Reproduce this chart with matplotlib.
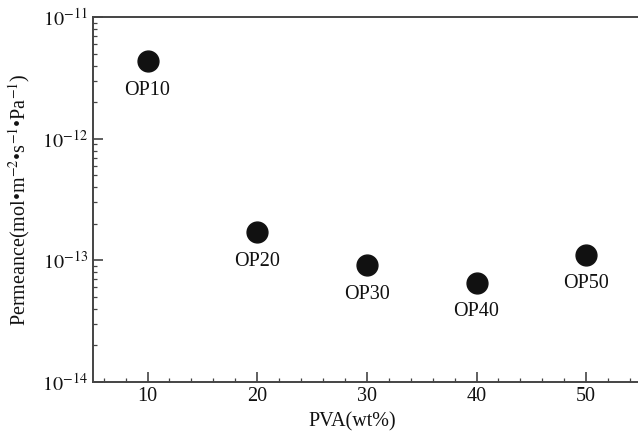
import matplotlib
matplotlib.use('Agg')
import matplotlib.pyplot as plt
from matplotlib.ticker import LogLocator, MultipleLocator, FixedLocator

plt.rcParams['font.family'] = ['Liberation Serif', 'DejaVu Serif']
plt.rcParams['mathtext.fontset'] = 'stix'

# data
pva = [10, 20, 30, 40, 50]
permeance = [4.36e-12, 1.70e-13, 9.1e-14, 6.55e-14, 1.11e-13]
names = ['OP10', 'OP20', 'OP30', 'OP40', 'OP50']
yticks = [1e-14, 1e-13, 1e-12, 1e-11]
ytick_labels = [r'$10^{-14}$', r'$10^{-13}$', r'$10^{-12}$', r'$10^{-11}$']

fig = plt.figure(figsize=(6.38, 4.36), dpi=100)
ax = fig.add_axes([0.1453, 0.1245, 0.8594, 0.8358])

ax.plot(pva, permeance, 'o', color='#111111', markersize=15, linestyle='none')
for x, y, n in zip(pva, permeance, names):
    ax.annotate(n, (x, y), xytext=(0, -21), textcoords='offset points',
                ha='center', va='center', fontsize=14.5, color='#111111')

ax.set_yscale('log')
ax.set_xlim(5, 55)
ax.set_ylim(1e-14, 1e-11)
ax.xaxis.set_major_locator(FixedLocator(pva))
ax.xaxis.set_minor_locator(MultipleLocator(2))
ax.yaxis.set_major_locator(FixedLocator(yticks))
ax.set_yticklabels(ytick_labels)
ax.yaxis.set_minor_locator(LogLocator(base=10, subs=range(2, 10)))
ax.yaxis.set_minor_formatter(plt.NullFormatter())

ax.tick_params(which='both', direction='in', colors='#444444', labelcolor='#111111',
               labelsize=14.5, top=False, right=False)
ax.tick_params(which='major', length=7, width=1.2)
ax.tick_params(which='minor', length=3, width=0.9)
for s in ax.spines.values():
    s.set_color('#444444')
    s.set_linewidth(1.4)

ax.set_xlabel('PVA(wt%)', fontsize=14.5, color='#111111', labelpad=4)
ax.xaxis.set_label_coords(0.473, -0.085)
ax.set_ylabel(r'Permeance(mol•m$^{-2}$•s$^{-1}$•Pa$^{-1}$)', fontsize=14.5,
              color='#111111', labelpad=7)

fig.savefig('out.png', dpi=100)
